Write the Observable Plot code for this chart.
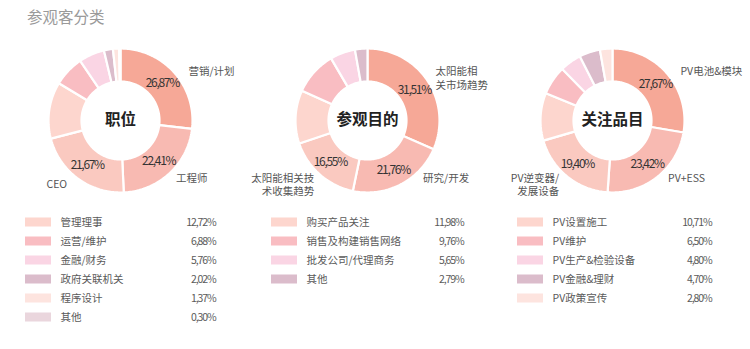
<!DOCTYPE html>
<html><head><meta charset="utf-8">
<script src="https://cdn.jsdelivr.net/npm/d3@7"></script>
<script src="https://cdn.jsdelivr.net/npm/@observablehq/plot@0.6"></script>
<style>
body{margin:0;background:#fff;font-family:"Noto Sans CJK SC","Noto Sans",sans-serif;}
#title{height:30px;line-height:32px;padding-left:27px;font-size:15.5px;color:#9a9a9a;}
</style></head><body>
<div id="title">参观客分类</div>
<div id="chart"></div>
<script>
// ---- data ----
const titles = ["职位", "参观目的", "关注品目"];
const jobLabels = ["营销/计划", "工程师", "CEO", "管理理事", "运营/维护", "金融/财务", "政府关联机关", "程序设计", "其他"];
const jobValues = [26.87, 22.41, 21.67, 12.72, 6.88, 5.76, 2.02, 1.37, 0.30];
const purposeLabels = ["太阳能相\n关市场趋势", "研究/开发", "太阳能相关技\n术收集趋势", "购买产品关注", "销售及构建销售网络", "批发公司/代理商务", "其他"];
const purposeValues = [31.51, 21.76, 16.55, 11.98, 9.76, 5.65, 2.79];
const productLabels = ["PV电池&模块", "PV+ESS", "PV逆变器/\n发展设备", "PV设置施工", "PV维护", "PV生产&检验设备", "PV金融&理财", "PV政策宣传"];
const productValues = [27.67, 23.42, 19.40, 10.71, 6.50, 4.80, 4.70, 2.80];
const jobColors = ["#f6a897", "#f8bab2", "#fac9c0", "#fdd6ce", "#f9bdc2", "#fad5e4", "#dbbccb", "#fde4df", "#ead6dd"];
const purposeColors = ["#f6a897", "#f8bab2", "#fac9c0", "#fdd6ce", "#f9bdc2", "#fad5e4", "#dbbccb"];
const productColors = ["#f6a897", "#f8bab2", "#fac9c0", "#fdd6ce", "#f9bdc2", "#fad5e4", "#dbbccb", "#fde4df"];

// ---- layout ----
const W = 750, H = 319;
const donuts = [
  {labels: jobLabels, values: jobValues, colors: jobColors, cx: 120, legendX: 25, valueX: 215},
  {labels: purposeLabels, values: purposeValues, colors: purposeColors, cx: 367, legendX: 271, valueX: 463},
  {labels: productLabels, values: productValues, colors: productColors, cx: 612, legendX: 517, valueX: 711}
];
const CY = 90, R0 = 39, R1 = 72, RL = 56;
const outerPos = [{a: 54, r: 84}, {a: 136, r: 80}, {a: 220, r: 83}].map(d => ({a: d.a * Math.PI / 180, r: d.r}));
const fmt = v => v.toFixed(2).replace(".", ",") + "%";
const pt = (cx, r, a) => [cx + r * Math.sin(a), CY - r * Math.cos(a)];

const slicePts = [], pctText = [], outerText = [], centerText = [], swatches = [], legendText = [];
donuts.forEach((d, di) => {
  const total = d3.sum(d.values);
  let cum = 0;
  centerText.push({x: d.cx, y: CY, text: titles[di]});
  d.values.forEach((v, i) => {
    const a0 = cum / total * 2 * Math.PI, a1 = (cum + v) / total * 2 * Math.PI;
    cum += v;
    const id = di + "-" + i, n = Math.max(2, Math.ceil((a1 - a0) / 0.02));
    const poly = [];
    for (let k = 0; k <= n; k++) poly.push(pt(d.cx, R1, a0 + (a1 - a0) * k / n));
    for (let k = n; k >= 0; k--) poly.push(pt(d.cx, R0, a0 + (a1 - a0) * k / n));
    poly.push(poly[0]);
    poly.forEach(([x, y]) => slicePts.push({id, x, y, color: d.colors[i]}));
    const am = (a0 + a1) / 2;
    if (i < 3) {
      const [x, y] = pt(d.cx, RL, am);
      pctText.push({x, y, text: fmt(v)});
      const o = outerPos[i];
      const [ox, oy] = pt(d.cx, o.r, o.a);
      outerText.push({x: ox, y: oy, text: d.labels[i], kind: i === 0 ? "top" : (Math.sin(o.a) >= 0 ? "start" : "end")});
    } else {
      const row = i - 3;
      const y = 192 + row * 19;
      swatches.push({x1: d.legendX, x2: d.legendX + 26, y1: y - 4.5, y2: y + 4.5, color: d.colors[i]});
      legendText.push({x: d.legendX + 35, y, text: d.labels[i], anchor: "start"});
      legendText.push({x: d.valueX, y, text: fmt(v), anchor: "end", num: true});
    }
  });
});

const font = '"Noto Sans CJK SC", "Noto Sans", sans-serif';
const chart = Plot.plot({
  width: W, height: H,
  margin: 0,
  x: {domain: [0, W], range: [0, W], axis: null},
  y: {domain: [0, H], range: [0, H], axis: null},
  color: {type: "identity"},
  style: {fontFamily: font, background: "#fff"},
  marks: [
    Plot.line(slicePts, {x: "x", y: "y", z: "id", fill: "color", stroke: "white", strokeWidth: 2.2, curve: "linear", strokeLinejoin: "miter"}),
    Plot.text(pctText, {x: "x", y: "y", text: "text", fontSize: 12, fill: "#333"}),
    Plot.text(centerText, {x: "x", y: "y", text: "text", fontSize: 15.5, fontWeight: "bold", fill: "#222"}),
    Plot.text(outerText.filter(d => d.kind === "top"), {x: "x", y: "y", text: "text", textAnchor: "start", lineAnchor: "top", dy: -6, fontSize: 10.5, fill: "#555", lineHeight: 1.32}),
    Plot.text(outerText.filter(d => d.kind === "start"), {x: "x", y: "y", text: "text", textAnchor: "start", fontSize: 10.5, fill: "#555", lineHeight: 1.3}),
    Plot.text(outerText.filter(d => d.kind === "end"), {x: "x", y: "y", text: "text", textAnchor: "end", fontSize: 10.5, fill: "#555", lineHeight: 1.3}),
    Plot.rect(swatches, {x1: "x1", x2: "x2", y1: "y1", y2: "y2", fill: "color"}),
    Plot.text(legendText.filter(d => !d.num), {x: "x", y: "y", text: "text", textAnchor: "start", fontSize: 10.5, fill: "#5a5a5a"}),
    Plot.text(legendText.filter(d => d.num), {x: "x", y: "y", text: "text", textAnchor: "end", fontSize: 10.5, fill: "#5a5a5a"})
  ]
});
// condense the percentage texts, as in the reference
d3.select(chart).selectAll("text")
  .filter(function() { return /%$/.test(this.textContent); })
  .attr("letter-spacing", function() { return +this.closest("g").getAttribute("font-size") === 12 ? "-1.3px" : "-1.1px"; });
document.getElementById("chart").appendChild(chart);
</script>
</body></html>
